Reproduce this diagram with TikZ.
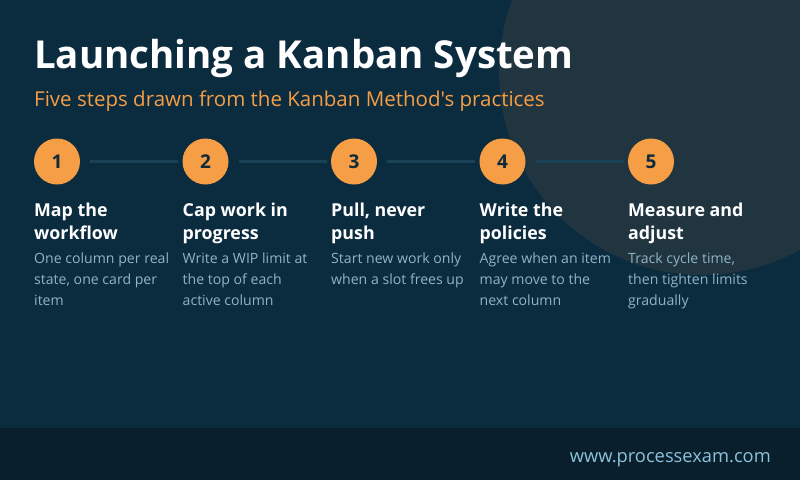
\documentclass[tikz,border=0pt]{standalone}
\usepackage{fontspec}
\setmainfont{Open Sans}[Ligatures=TeXOff]
\definecolor{bg}{HTML}{0B2B3F}
\definecolor{blob}{HTML}{20353F}
\definecolor{foot}{HTML}{0A1F2C}
\definecolor{link}{HTML}{1A4257}
\definecolor{accent}{HTML}{F59E45}
\definecolor{numc}{HTML}{0E2A3B}
\definecolor{desc}{HTML}{8FB4C6}
\definecolor{foottext}{HTML}{8DC2DB}
\tikzset{
  stepdot/.style={circle, fill=accent, minimum size=46pt, inner sep=0pt,
    font=\fontsize{19}{22}\selectfont\bfseries, text=numc},
  linkline/.style={draw=link, line width=2.5pt},
  headtxt/.style={anchor=base west, inner sep=0pt, text=white},
  desctxt/.style={anchor=base west, inner sep=0pt, text=desc},
}
\newcommand{\headbox}[1]{\parbox[t]{150pt}{\fontsize{17.8}{23}\selectfont\bfseries #1}}
\newcommand{\descbox}[1]{\parbox[t]{150pt}{\fontsize{14.1}{21}\selectfont #1}}
\begin{document}
\begin{tikzpicture}[x=1pt,y=-1pt]
\useasboundingbox (0,0) rectangle (800,480);
\fill[bg] (0,0) rectangle (800,480);
\begin{scope}
\clip (0,0) rectangle (800,428);
\fill[blob] (702,72) circle (203);
\end{scope}
\fill[foot] (0,428) rectangle (800,480);

\node[anchor=base west, inner sep=0pt, text=white,
  font=\fontsize{38.5}{44}\selectfont\bfseries] (title) at (34,68) {Launching a Kanban System};
\node[anchor=base west, inner sep=0pt, text=accent,
  font=\fontsize{20.5}{24}\selectfont\mdseries] (sub) at (34,106) {Five steps drawn from the Kanban Method's practices};

\foreach \i/\x in {1/57,2/205.5,3/354,4/502.5,5/651}{
  \node[stepdot] (c\i) at (\x,161.5) {\i};
}
\foreach \a/\b in {1/2,2/3,3/4,4/5}{
  \draw[linkline] ([xshift=10pt]c\a.east) -- ([xshift=-4pt]c\b.west);
}

\node[headtxt] (h1) at (34,216) {\headbox{Map the\\workflow}};
\node[headtxt] (h2) at (182.5,216) {\headbox{Cap work in\\progress}};
\node[headtxt] (h3) at (331,216) {\headbox{Pull, never\\push}};
\node[headtxt] (h4) at (479.5,216) {\headbox{Write the\\policies}};
\node[headtxt] (h5) at (628,216) {\headbox{Measure and\\adjust}};

\node[desctxt] (d1) at (34,263) {\descbox{One column per real\\state, one card per\\item}};
\node[desctxt] (d2) at (182.5,263) {\descbox{Write a WIP limit at\\the top of each\\active column}};
\node[desctxt] (d3) at (331,263) {\descbox{Start new work only\\when a slot frees up}};
\node[desctxt] (d4) at (479.5,263) {\descbox{Agree when an item\\may move to the\\next column}};
\node[desctxt] (d5) at (628,263) {\descbox{Track cycle time,\\then tighten limits\\gradually}};

\node[anchor=base east, inner sep=0pt, text=foottext,
  font=\fontsize{18.3}{21}\selectfont] (url) at (771,462) {www.processexam.com};
\end{tikzpicture}
\end{document}
